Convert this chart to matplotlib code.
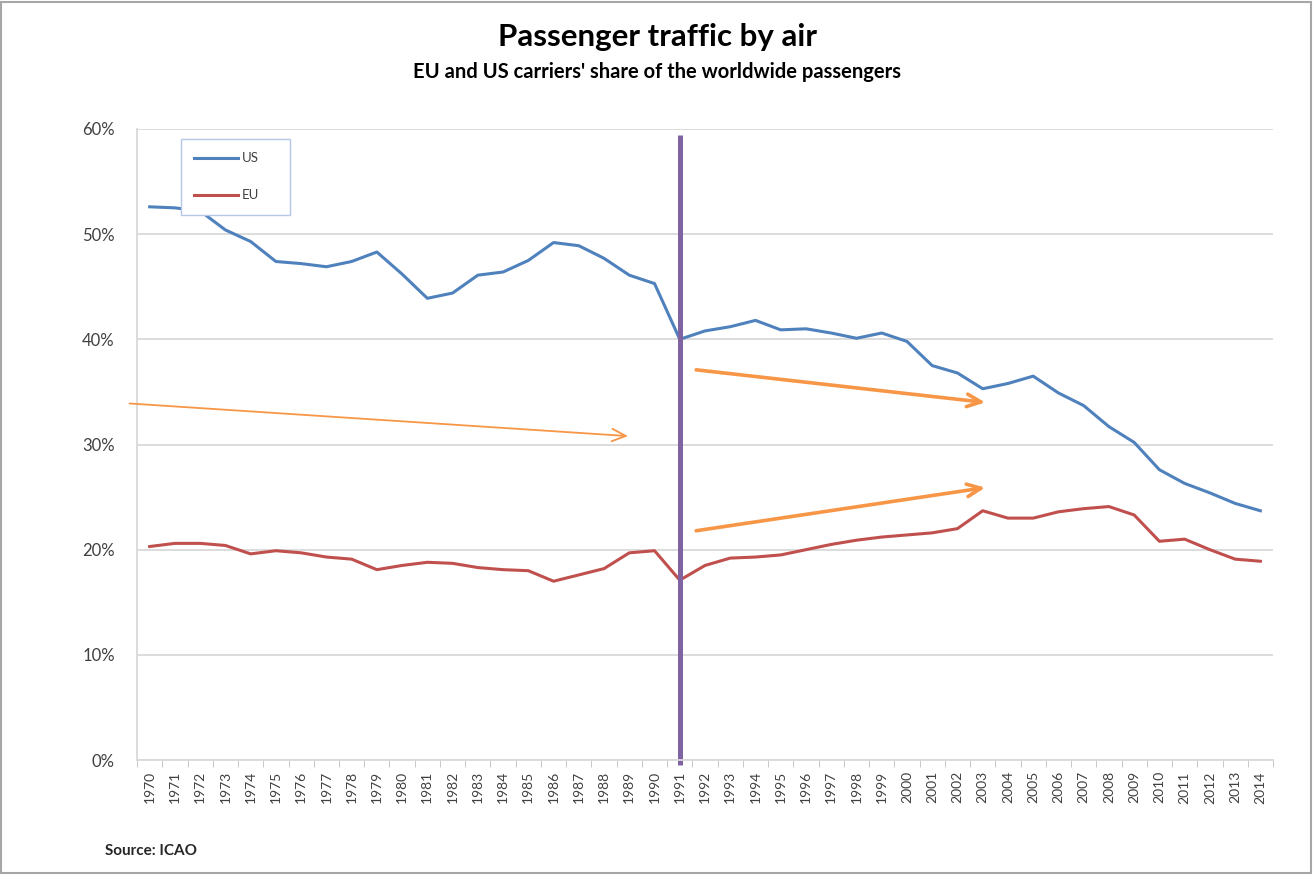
import matplotlib.pyplot as plt
from matplotlib.patches import Rectangle

plt.rcParams['font.family'] = ['Lato', 'DejaVu Sans']

years = list(range(1970, 2015))
us = [52.6, 52.5, 52.2, 50.4, 49.3, 47.4, 47.2, 46.9, 47.4, 48.3,
      46.2, 43.9, 44.4, 46.1, 46.4, 47.5, 49.2, 48.9, 47.7, 46.1,
      45.3, 40.0, 40.8, 41.2, 41.8, 40.9, 41.0, 40.6, 40.1, 40.6,
      39.8, 37.5, 36.8, 35.3, 35.8, 36.5, 34.9, 33.7, 31.7, 30.2,
      27.6, 26.3, 25.4, 24.4, 23.7]
eu = [20.3, 20.6, 20.6, 20.4, 19.6, 19.9, 19.7, 19.3, 19.1, 18.1,
      18.5, 18.8, 18.7, 18.3, 18.1, 18.0, 17.0, 17.6, 18.2, 19.7,
      19.9, 17.1, 18.5, 19.2, 19.3, 19.5, 20.0, 20.5, 20.9, 21.2,
      21.4, 21.6, 22.0, 23.7, 23.0, 23.0, 23.6, 23.9, 24.1, 23.3,
      20.8, 21.0, 20.0, 19.1, 18.9]
yticks = [0, 10, 20, 30, 40, 50, 60]
ytick_labels = ['0%', '10%', '20%', '30%', '40%', '50%', '60%']
break_year = 1991

# arrows: (start year, start %, end year, end %, width)
arrows = [(1969.2, 33.9, 1988.95, 30.8, 1.3),
          (1991.65, 37.1, 2003.1, 34.0, 2.6),
          (1991.65, 21.8, 2003.1, 25.9, 2.6)]

fig = plt.figure(figsize=(13.14, 8.75), dpi=100)
ax = fig.add_axes([0.1043, 0.1314, 0.8645, 0.7212])

ax.plot(years, us, color='#4F81BD', lw=2.2, label='US')
ax.plot(years, eu, color='#C0504D', lw=2.2, label='EU')

ax.set_xlim(1969.5, 2014.5)
ax.set_ylim(0, 60)
ax.set_yticks(yticks)
ax.set_yticklabels(ytick_labels, fontsize=12, color='#404040')
ax.set_xticks(years)
ax.set_xticklabels([str(y) for y in years], rotation=90, fontsize=10, color='#404040')
ax.set_xticks([y + 0.5 for y in [1969] + years], minor=True)
ax.tick_params(axis='x', which='major', length=0, pad=8)
ax.tick_params(axis='x', which='minor', length=5, color='#BFBFBF')
ax.tick_params(axis='y', length=0, pad=16)
ax.grid(axis='y', color='#D9D9D9', lw=1.3)
ax.set_axisbelow(True)
for s in ['top', 'right']:
    ax.spines[s].set_visible(False)
for s in ['left', 'bottom']:
    ax.spines[s].set_color('#D9D9D9')
    ax.spines[s].set_linewidth(1.3)

ax.plot([break_year, break_year], [-0.5, 59.4], color='#8064A2', lw=3.6,
        clip_on=False, solid_capstyle='butt')

for x0, y0, x1, y1, w in arrows:
    ax.annotate('', xy=(x1, y1), xytext=(x0, y0), annotation_clip=False,
                arrowprops=dict(arrowstyle='->,head_length=1.0,head_width=0.45',
                                color='#F79646', lw=w, shrinkA=0, shrinkB=0))

leg = ax.legend(loc='upper left', bbox_to_anchor=(0.0387, 0.865, 0.096, 0.119),
                mode='expand', fontsize=9.5, frameon=True, fancybox=False,
                framealpha=1, handlelength=3.3, labelspacing=1.9, borderpad=1.0,
                handletextpad=0.3, borderaxespad=0)
leg.get_frame().set_edgecolor('#B4C7E7')
leg.get_frame().set_linewidth(1.0)
for t in leg.get_texts():
    t.set_color('#404040')

fig.text(0.5, 0.958, 'Passenger traffic by air', ha='center', va='center',
         fontsize=22.5, fontweight='bold', color='black')
fig.text(0.5, 0.918, "EU and US carriers' share of the worldwide passengers",
         ha='center', va='center', fontsize=14.5, fontweight='bold', color='black')
fig.text(0.08, 0.027, 'Source: ICAO', ha='left', va='center', fontsize=11,
         fontweight='bold', color='#262626')

fig.patches.append(Rectangle((0.001, 0.002), 0.997, 0.996, transform=fig.transFigure,
                             fill=False, edgecolor='#A6A6A6', lw=1.5))

fig.savefig('out.png', dpi=100)
